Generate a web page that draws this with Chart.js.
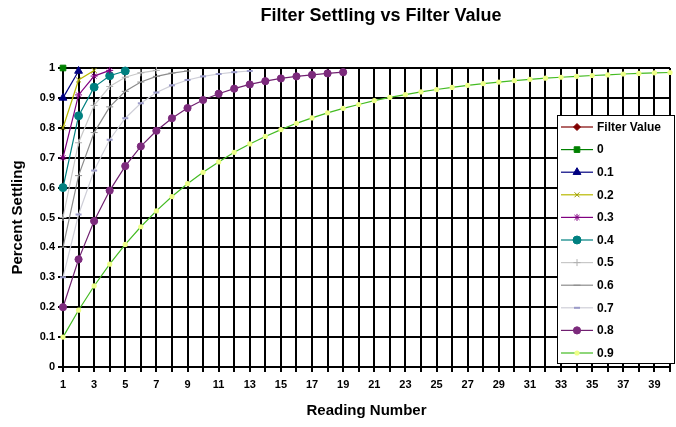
<!DOCTYPE html>
<html>
<head>
<meta charset="utf-8">
<script src="https://cdn.jsdelivr.net/npm/chart.js@4/dist/chart.umd.min.js"></script>
<style>
  html, body { margin: 0; padding: 0; background: #fff; }
  #wrap { width: 676px; height: 427px; position: relative; }
</style>
</head>
<body>
<div id="wrap"><canvas id="settle"></canvas></div>
<script>
// reading numbers along the x axis
const readings = ['1','2','3','4','5','6','7','8','9','10','11','12','13','14','15','16','17','18','19','20',
  '21','22','23','24','25','26','27','28','29','30','31','32','33','34','35','36','37','38','39','40'];

// percent settled after each reading, one list per filter value
const f00 = [1];
const f01 = [0.9, 0.99];
const f02 = [0.8, 0.96, 0.992];
const f03 = [0.7, 0.91, 0.973, 0.992];
const f04 = [0.6, 0.84, 0.936, 0.974, 0.99];
const f05 = [0.5, 0.75, 0.875, 0.938, 0.969, 0.984, 0.992];
const f06 = [0.4, 0.64, 0.784, 0.87, 0.922, 0.953, 0.972, 0.983, 0.99];
const f07 = [0.3, 0.51, 0.657, 0.76, 0.832, 0.882, 0.918, 0.942, 0.96, 0.972, 0.98, 0.986, 0.99];
const f08 = [0.2, 0.36, 0.488, 0.59, 0.672, 0.738, 0.79, 0.832, 0.866, 0.893, 0.914, 0.931, 0.945,
  0.956, 0.965, 0.972, 0.977, 0.982, 0.986];
const f09 = [0.1, 0.19, 0.271, 0.344, 0.41, 0.469, 0.522, 0.57, 0.613, 0.651, 0.686, 0.718, 0.746,
  0.771, 0.794, 0.815, 0.833, 0.85, 0.865, 0.878, 0.891, 0.902, 0.911, 0.92, 0.928, 0.935, 0.942,
  0.948, 0.953, 0.958, 0.962, 0.966, 0.969, 0.972, 0.975, 0.977, 0.98, 0.982, 0.984, 0.985];

const yTicks = [0, 0.1, 0.2, 0.3, 0.4, 0.5, 0.6, 0.7, 0.8, 0.9, 1];

const FONT = 'Arial, "Liberation Sans", sans-serif';

function series(label, data, line, fill, style, radius, extra) {
  return Object.assign({
    label: label,
    data: data,
    borderColor: line,
    backgroundColor: fill,
    pointBackgroundColor: fill,
    pointBorderColor: fill,
    pointStyle: style,
    pointRadius: radius,
    pointBorderWidth: 1,
    borderWidth: 1.2,
    tension: 0,
    fill: false,
    clip: false
  }, extra || {});
}

const datasets = [
  series('Filter Value', [], '#800000', '#800000', 'rectRot', 3.5),
  series('0', f00, '#008000', '#008000', 'rect', 4),
  series('0.1', f01, '#000080', '#000080', 'triangle', 4.5),
  series('0.2', f02, '#b8b800', '#999900', 'crossRot', 3.5),
  series('0.3', f03, '#800080', '#800080', 'star', 3.5),
  series('0.4', f04, '#008080', '#008080', 'circle', 4),
  series('0.5', f05, '#c8c8c8', '#b0b0b0', 'cross', 3.5),
  series('0.6', f06, '#8c8c8c', '#8c8c8c', 'line', 3.5),
  series('0.7', f07, '#cfcfd8', '#9a9ac8', 'line', 3, { pointBorderWidth: 2 }),
  series('0.8', f08, '#702070', '#7c2a7c', 'circle', 3.6),
  series('0.9', f09, '#44bb22', '#eeff88', 'circle', 2.6, { pointBorderWidth: 0 })
];

// chart title, drawn over the canvas
const titlePlugin = {
  id: 'topTitle',
  afterDraw(chart) {
    const ctx = chart.ctx;
    ctx.save();
    ctx.fillStyle = '#000';
    ctx.font = 'bold 18px ' + FONT;
    ctx.textAlign = 'center';
    ctx.textBaseline = 'middle';
    ctx.fillText('Filter Settling vs Filter Value', 381, 16);
    ctx.restore();
  }
};

// boxed legend sitting inside the plot on the right
const boxLegend = {
  id: 'boxLegend',
  afterDraw(chart) {
    const ctx = chart.ctx;
    const x0 = 557, y0 = 115, w = 118, h = 249;
    const rowH = 22.6;
    ctx.save();
    ctx.fillStyle = '#fff';
    ctx.fillRect(x0, y0, w, h);
    ctx.strokeStyle = '#000';
    ctx.lineWidth = 1;
    ctx.strokeRect(x0 + 0.5, y0 + 0.5, w - 1, h - 1);
    ctx.font = 'bold 12px ' + FONT;
    ctx.textBaseline = 'middle';
    chart.data.datasets.forEach((ds, i) => {
      const y = y0 + 12 + i * rowH;
      ctx.strokeStyle = ds.borderColor;
      ctx.lineWidth = 1.2;
      ctx.beginPath();
      ctx.moveTo(561, y);
      ctx.lineTo(593, y);
      ctx.stroke();
      ctx.fillStyle = ds.pointBackgroundColor;
      ctx.strokeStyle = ds.pointBorderColor;
      ctx.lineWidth = ds.pointBorderWidth;
      Chart.helpers.drawPoint(ctx, {
        pointStyle: ds.pointStyle,
        radius: ds.pointRadius,
        rotation: 0,
        borderWidth: ds.pointBorderWidth
      }, 577, y);
      ctx.fillStyle = '#000';
      ctx.fillText(ds.label, 597, y + 0.5);
    });
    ctx.restore();
  }
};

const config = {
  type: 'line',
  data: { labels: readings, datasets: datasets },
  options: {
    responsive: false,
    animation: false,
    layout: { padding: { top: 68, right: 5, left: 0, bottom: 0 } },
    plugins: {
      legend: { display: false },
      title: { display: false },
      tooltip: { enabled: false }
    },
    scales: {
      x: {
        type: 'category',
        offset: false,
        grid: { color: '#000', lineWidth: 2, tickLength: 5, drawTicks: true },
        border: { color: '#000', width: 2 },
        ticks: {
          autoSkip: false,
          maxRotation: 0,
          padding: 6,
          color: '#000',
          font: { family: FONT, size: 11, weight: 'bold' },
          callback: function (v, i) { return i % 2 === 0 ? readings[i] : ''; }
        },
        title: {
          display: true,
          text: 'Reading Number',
          color: '#000',
          font: { family: FONT, size: 15, weight: 'bold' },
          padding: { top: 4, bottom: 7 }
        },
        afterFit(scale) { scale.height = 60; }
      },
      y: {
        min: 0,
        max: 1,
        afterBuildTicks(scale) { scale.ticks = yTicks.map(v => ({ value: v })); },
        grid: { color: '#000', lineWidth: 2, tickLength: 5, drawTicks: true },
        border: { color: '#000', width: 2 },
        ticks: {
          padding: 3,
          color: '#000',
          font: { family: FONT, size: 11, weight: 'bold' },
          callback: v => String(v)
        },
        title: {
          display: true,
          text: 'Percent Settling',
          color: '#000',
          font: { family: FONT, size: 15, weight: 'bold' },
          padding: { top: 9, bottom: 4 }
        },
        afterFit(scale) { scale.width = 63; }
      }
    }
  },
  plugins: [titlePlugin, boxLegend]
};

const canvas = document.getElementById('settle');
canvas.width = 676;
canvas.height = 427;
new Chart(canvas.getContext('2d'), config);
</script>
</body>
</html>
